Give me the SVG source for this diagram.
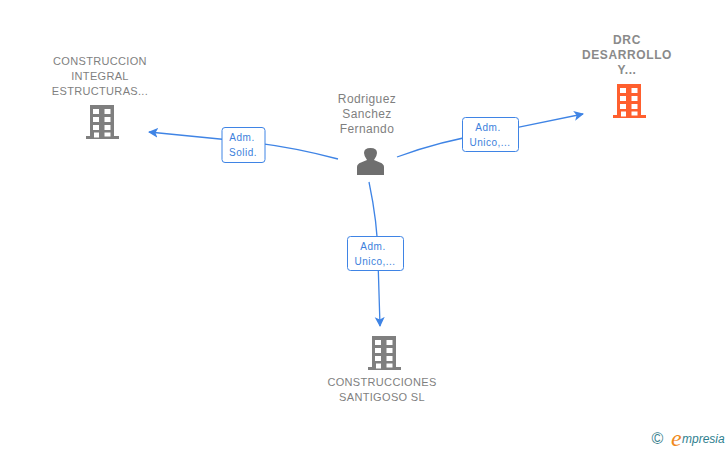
<svg xmlns="http://www.w3.org/2000/svg" width="728" height="450" viewBox="0 0 728 450">
<style>
.n{font-family:"Liberation Sans",Arial,sans-serif;font-size:11px;fill:#7f7f7f;text-anchor:middle;letter-spacing:.33px}
.d{font-size:12px;font-weight:bold;fill:#8a8a8a;letter-spacing:.6px}
.p{font-family:"Liberation Sans",Arial,sans-serif;font-size:12px;fill:#7f7f7f;text-anchor:middle;letter-spacing:.4px}
.l{font-family:"Liberation Sans",Arial,sans-serif;font-size:10px;fill:#3c7fdc;text-anchor:middle;letter-spacing:.5px}
.c{fill:none;stroke:#3f84e5;stroke-width:1.300}
.b{fill:#fff;stroke:#3f84e5;stroke-width:1}
.w{fill:#fff}
</style>
<defs>
<marker id="a" markerUnits="userSpaceOnUse" markerWidth="12" markerHeight="12" refX="9" refY="6" orient="auto"><path d="M0 1 L10 6 L0 11 L2.500 6Z" fill="#3f84e5"/></marker>
<g id="bld">
<path d="M4 0H28V31H33V34H0V31H4Z"/>
<g class="w"><rect x="7" y="4" width="6" height="5"/><rect x="18.500" y="4" width="6" height="5"/><rect x="7" y="12" width="6" height="5"/><rect x="18.500" y="12" width="6" height="5"/><rect x="7" y="20" width="6" height="5"/><rect x="18.500" y="20" width="6" height="5"/><rect x="8" y="27.500" width="5" height="5"/><rect x="18.500" y="27.500" width="6" height="4"/></g>
</g>
</defs>
<g id="connectors">
<path class="c" d="M338 159 Q290 146 240 141 L149 132" marker-end="url(#a)"/>
<path class="c" d="M397 157 Q440 141 490 133 L583 114" marker-end="url(#a)"/>
<path class="c" d="M369 182 Q378 225 378 260 L380 326" marker-end="url(#a)"/>
</g>
<g id="node-construccion-integral">
<text class="n" x="100" y="65">CONSTRUCCION</text><text class="n" x="100" y="80">INTEGRAL</text><text class="n" x="100" y="95">ESTRUCTURAS...</text>
<use href="#bld" x="86" y="105" fill="#7f7f7f"/>
</g>
<g id="node-drc">
<text class="n d" x="627" y="44">DRC</text><text class="n d" x="627" y="59">DESARROLLO</text><text class="n d" x="627" y="74">Y...</text>
<use href="#bld" x="613" y="84" fill="#ff5f2e"/>
</g>
<g id="node-rodriguez">
<text class="p" x="367" y="103">Rodriguez</text><text class="p" x="367" y="118">Sanchez</text><text class="p" x="367" y="133">Fernando</text>
<path d="M357 175V167Q357 164 361 162.500L367 160Q364 156 364 153Q364 148 370.500 148Q377 148 377 153Q377 156 374 160L380 162.500Q384 164 384 167V175Z" fill="#6f6f6f"/>
</g>
<g id="node-santigoso">
<use href="#bld" x="368" y="336" fill="#7f7f7f"/>
<text class="n" x="382" y="386">CONSTRUCCIONES</text><text class="n" x="382" y="401">SANTIGOSO SL</text>
</g>
<g id="label-solid"><rect class="b" x="222" y="127.500" width="43" height="35" rx="3"/><text class="l" x="242" y="141">Adm.</text><text class="l" x="243" y="156">Solid.</text></g>
<g id="label-unico-1"><rect class="b" x="462.500" y="117.500" width="56" height="34" rx="3"/><text class="l" x="488" y="131">Adm.</text><text class="l" x="490" y="146">Unico,...</text></g>
<g id="label-unico-2"><rect class="b" x="347.500" y="236.500" width="56" height="34" rx="3"/><text class="l" x="373" y="250">Adm.</text><text class="l" x="375" y="265">Unico,...</text></g>
<g id="logo">
<text x="657.500" y="444" font-family="Liberation Sans,sans-serif" font-size="16" fill="#3a7f8f" text-anchor="middle">©</text>
<text x="671" y="446" font-family="Liberation Serif,serif" font-style="italic" font-size="24" fill="#f08a1d">e</text>
<text x="682" y="443" font-family="Liberation Sans,sans-serif" font-style="italic" font-size="12" fill="#2f7f8f">mpresia</text>
</g>
</svg>
